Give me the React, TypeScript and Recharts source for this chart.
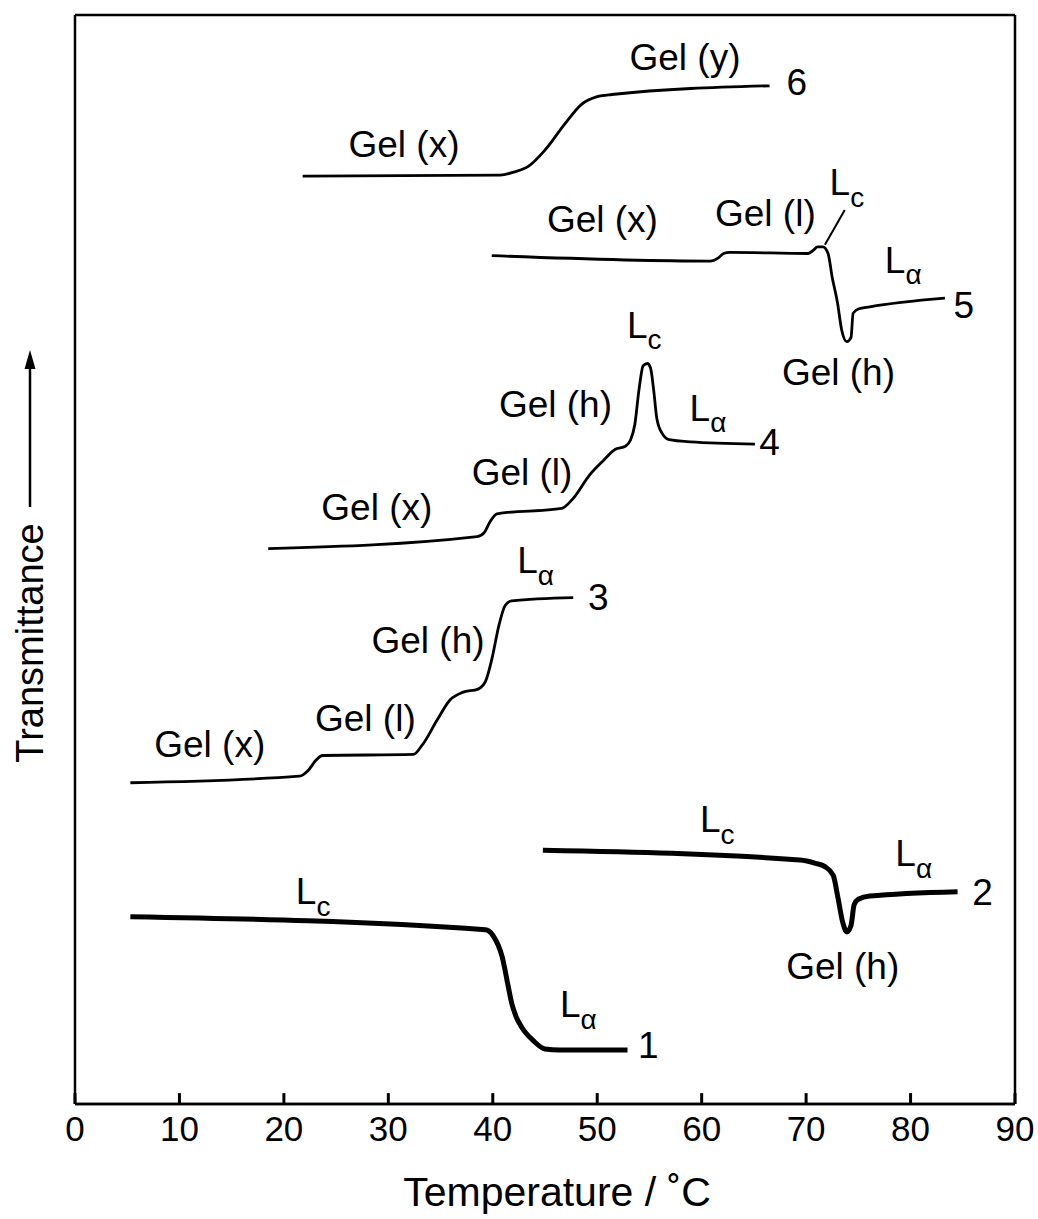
import { LineChart, Line, XAxis, YAxis, ReferenceDot, ReferenceLine } from 'recharts'

// temperature (°C) and transmittance (arbitrary units)
const temp1 = [5.3, 39.3, 40.0, 40.9, 41.5, 41.8, 42.2, 42.8, 43.9, 45.0, 46.4, 52.9]
const trans1 = [17.2, 16.0, 15.5, 13.5, 10.7, 9.3, 8.1, 7.0, 5.8, 5.05, 4.95, 4.95]

const temp2 = [44.8, 69.4, 70.9, 71.8, 72.6, 73.0, 73.5, 73.9, 74.3, 74.6, 75.0, 76.1, 84.5]
const trans2 = [23.3, 22.4, 22.1, 21.8, 21.0, 19.2, 16.7, 15.8, 16.4, 18.3, 18.8, 19.1, 19.5]

const temp3 = [5.3, 21.5, 22.3, 23.1, 23.7, 32.4, 33.2, 34.7, 35.9, 37.1, 38.6, 39.3, 39.9, 40.6, 41.2, 41.8, 47.7]
const trans3 = [29.5, 30.1, 30.6, 31.6, 32.0, 32.1, 32.9, 35.3, 37.1, 37.8, 38.1, 38.8, 40.8, 44.0, 45.8, 46.2, 46.5]

const temp4 = [18.5, 38.5, 39.2, 39.7, 40.4, 46.6, 47.6, 49.3, 50.6, 51.7, 52.7, 53.2, 53.6, 54.0, 54.4, 54.8, 55.1, 55.4, 55.7, 56.2, 56.9, 58.9, 65.1]
const trans4 = [51.0, 52.1, 52.5, 53.4, 54.2, 54.7, 55.5, 57.8, 59.1, 60.1, 60.4, 61.0, 62.4, 65.6, 67.8, 68.0, 67.6, 65.6, 63.0, 61.6, 61.0, 60.8, 60.6]

const temp5 = [39.9, 60.8, 61.6, 62.1, 62.7, 70.2, 70.7, 71.1, 71.6, 72.1, 72.5, 73.0, 73.4, 73.9, 74.3, 74.5, 75.0, 76.1, 83.3]
const trans5 = [77.9, 77.4, 77.7, 78.1, 78.2, 78.1, 78.4, 78.7, 78.7, 78.1, 75.9, 73.6, 71.1, 70.0, 70.4, 72.6, 73.0, 73.2, 74.0]

const temp6 = [21.8, 40.7, 42.1, 43.4, 45.0, 46.9, 48.5, 50.0, 51.4, 66.5]
const trans6 = [85.2, 85.3, 85.6, 86.1, 87.6, 90.0, 91.8, 92.5, 92.7, 93.5]

const xTicks = [0, 10, 20, 30, 40, 50, 60, 70, 80, 90]

// phase labels: [temperature, transmittance, text, subscript]
const labels: [number, number, string, string][] = [
  [31.5, 88.1, 'Gel (x)', ''],
  [58.4, 96.1, 'Gel (y)', ''],
  [69.1, 93.8, '6', ''],
  [50.5, 81.2, 'Gel (x)', ''],
  [66.1, 81.8, 'Gel (l)', ''],
  [73.9, 84.6, 'L', 'c'],
  [79.3, 77.5, 'L', 'α'],
  [73.1, 67.2, 'Gel (h)', ''],
  [85.1, 73.3, '5', ''],
  [28.9, 54.8, 'Gel (x)', ''],
  [42.8, 58.0, 'Gel (l)', ''],
  [46.0, 64.2, 'Gel (h)', ''],
  [54.5, 71.5, 'L', 'c'],
  [60.6, 63.9, 'L', 'α'],
  [66.5, 60.7, '4', ''],
  [12.9, 33.0, 'Gel (x)', ''],
  [27.8, 35.4, 'Gel (l)', ''],
  [33.8, 42.6, 'Gel (h)', ''],
  [44.1, 49.9, 'L', 'α'],
  [50.1, 46.5, '3', ''],
  [22.8, 19.5, 'L', 'c'],
  [48.2, 9.1, 'L', 'α'],
  [54.9, 5.4, '1', ''],
  [61.5, 26.1, 'L', 'c'],
  [80.3, 23.0, 'L', 'α'],
  [73.5, 12.6, 'Gel (h)', ''],
  [86.9, 19.4, '2', ''],
]

const zip = (t: number[], v: number[]) => t.map((x, i) => ({ t: x, v: v[i] }))

const curves = [
  { data: zip(temp1, trans1), w: 5 },
  { data: zip(temp2, trans2), w: 5 },
  { data: zip(temp3, trans3), w: 2.8 },
  { data: zip(temp4, trans4), w: 2.8 },
  { data: zip(temp5, trans5), w: 2.8 },
  { data: zip(temp6, trans6), w: 2.8 },
]

const FONT = "'Liberation Sans', Arial, Helvetica, sans-serif"
const AX = { stroke: '#000', strokeWidth: 2.5 }

const BottomTick = ({ x, y, payload }: any) => (
  <text x={x} y={y + 37} textAnchor="middle" fontSize={35} fontFamily={FONT} fill="#000">
    {payload.value}
  </text>
)

const PhaseLabel = ({ cx, cy, text, sub }: any) => (
  <text x={cx} y={cy} textAnchor="middle" dominantBaseline="central" fontSize={37} fontFamily={FONT} fill="#000">
    {text}
    {sub && <tspan fontSize={28} dy={14}>{sub}</tspan>}
  </text>
)

const AxisTitles = () => (
  <g fontFamily={FONT} fill="#000">
    <text x={557} y={1206} textAnchor="middle" fontSize={41}>Temperature / ˚C</text>
    <text x={30} y={643} transform="rotate(-90 30 643)" textAnchor="middle" dominantBaseline="central"
      fontSize={38}>Transmittance</text>
    <line x1={30} x2={30} y1={507} y2={364} stroke="#000" strokeWidth={2.5} />
    <path d="M30,350 L24.5,369 L35.5,369 Z" fill="#000" />
  </g>
)

export default function App() {
  return (
    <div style={{ position: 'absolute', left: 0, top: 0, background: '#fff' }}>
      <LineChart width={1038} height={1219} margin={{ top: 15, right: 23, left: 75, bottom: 0 }}>
        <XAxis
          dataKey="t" type="number" domain={[0, 90]} ticks={xTicks} interval={0}
          height={115} tickSize={0} tickMargin={0} tickLine={false}
          axisLine={AX} tick={<BottomTick />}
          label={{ content: () => <AxisTitles /> }}
        />
        <YAxis type="number" domain={[0, 100]} width={0} hide />
        {/* frame */}
        <ReferenceLine x={0} stroke="#000" strokeWidth={2.5} ifOverflow="visible" />
        <ReferenceLine x={90} stroke="#000" strokeWidth={2.5} ifOverflow="visible" />
        <ReferenceLine y={100} stroke="#000" strokeWidth={2.5} ifOverflow="visible" />
        <ReferenceLine y={0} stroke="#000" strokeWidth={2.5} ifOverflow="visible" />
        {/* inward tick marks */}
        {xTicks.map((t) => (
          <ReferenceLine key={'tk' + t} segment={[{ x: t, y: 0 }, { x: t, y: 1.0 }]} stroke="#000" strokeWidth={3} ifOverflow="visible" />
        ))}
        {curves.map((c, i) => (
          <Line key={i} data={c.data} dataKey="v" type="monotone" stroke="#000" strokeWidth={c.w}
            dot={false} activeDot={false} isAnimationActive={false} />
        ))}
        <ReferenceLine segment={[{ x: 71.8, y: 78.9 }, { x: 73.7, y: 82.1 }]} stroke="#000" strokeWidth={2} />
        {labels.map(([t, v, text, sub], i) => (
          <ReferenceDot key={i} x={t} y={v} r={0}
            shape={(p: any) => <PhaseLabel cx={p.cx} cy={p.cy} text={text} sub={sub} />} />
        ))}
      </LineChart>
    </div>
  )
}
